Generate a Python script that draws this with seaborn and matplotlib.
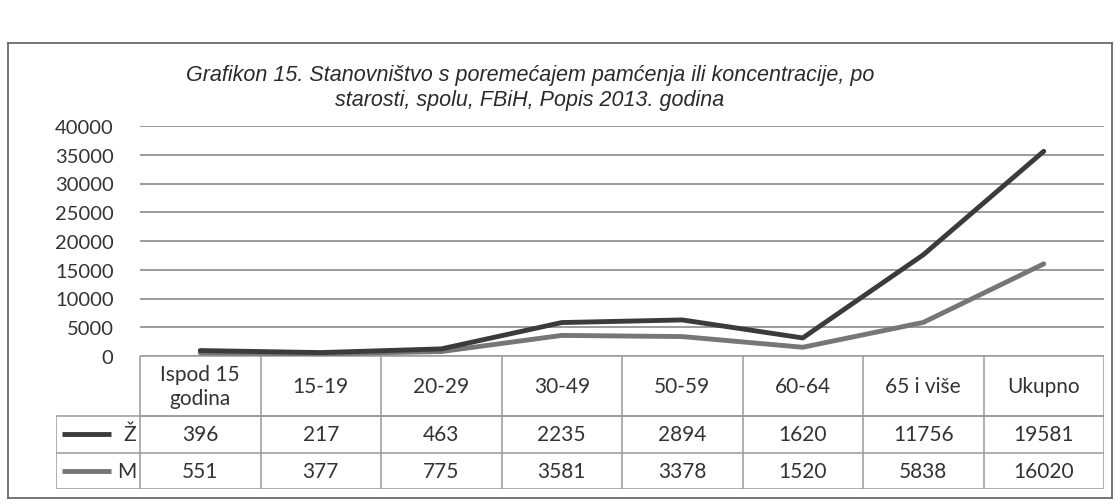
import numpy as np
import pandas as pd
import matplotlib
matplotlib.use("Agg")
import matplotlib.pyplot as plt
import seaborn as sns

categories = ["Ispod 15\ngodina", "15-19", "20-29", "30-49", "50-59", "60-64", "65 i više", "Ukupno"]
zene = [396, 217, 463, 2235, 2894, 1620, 11756, 19581]
muski = [551, 377, 775, 3581, 3378, 1520, 5838, 16020]
yticks = [0, 5000, 10000, 15000, 20000, 25000, 30000, 35000, 40000]

dark = "#3b3b3b"
light = "#767676"
grid_col = "#8a8a8a"
txt_col = "#333333"

sns.set_theme(style="white")
plt.rcParams['font.family'] = ['Lato', 'DejaVu Sans']

W, H = 1115, 502
fig = plt.figure(figsize=(W / 100, H / 100), dpi=100)
fig.patch.set_facecolor("white")

def px(x0, y0, x1, y1):
    # figure-pixel box -> axes rect
    return [x0 / W, 1 - y1 / H, (x1 - x0) / W, (y1 - y0) / H]

# outer frame
frame = fig.add_axes(px(8, 44, 1112, 499))
frame.set_xticks([])
frame.set_yticks([])
for s in frame.spines.values():
    s.set_color("#6a6a6a")
    s.set_linewidth(1.3)
frame.patch.set_alpha(0)

fig.text(530 / W, 1 - 88 / H,
         "Grafikon 15. Stanovništvo s poremećajem pamćenja ili koncentracije, po\nstarosti, spolu, FBiH, Popis 2013. godina",
         ha="center", va="center", fontsize=15.5, style="italic", color="#2a2a2a",
         family=["Liberation Sans", "DejaVu Sans"], linespacing=1.2)

# stacked line chart (Excel style): M at the bottom, Ž stacked on M
n = len(categories)
df = pd.DataFrame({
    "x": np.arange(n),
    "M": muski,
    "Ž": np.array(muski) + np.array(zene),
})

ax = fig.add_axes(px(140, 127, 1104, 357))
ax.set_xlim(-0.5, n - 0.5)
ax.set_ylim(0, 40000)
ax.set_yticks(yticks)
ax.yaxis.grid(True, color=grid_col, linewidth=1.2)
ax.set_axisbelow(True)
sns.lineplot(data=df, x="x", y="M", ax=ax, color=light, linewidth=3.5, legend=False)
sns.lineplot(data=df, x="x", y="Ž", ax=ax, color=dark, linewidth=3.5, legend=False)
ax.set_xticks([])
ax.set_xlabel("")
ax.set_ylabel("")
for s in ax.spines.values():
    s.set_visible(False)
ax.tick_params(axis="y", length=0, pad=19, labelsize=14.5, labelcolor=txt_col)
ax.patch.set_alpha(0)

# data table under the plot
lab_w = (140 - 56) / ((1104 - 140) / n)
tab = fig.add_axes(px(56, 357, 1104, 490))
tab.set_xlim(-0.5 - lab_w, n - 0.5)
tab.set_ylim(0, 1)
tab.axis("off")

h_head = (417 - 357) / (490 - 357)
h_row = (1 - h_head) / 2
y_head_bot = 1 - h_head
y_row1_bot = y_head_bot - h_row
edges = np.arange(n + 1) - 0.5
bcol = "#9a9a9a"
tab.hlines([1, y_head_bot], -0.5, n - 0.5, color=bcol, lw=1.1)
tab.hlines([y_head_bot, y_row1_bot, 0], -0.5 - lab_w, n - 0.5, color=bcol, lw=1.1)
tab.vlines(edges, 0, 1, color=bcol, lw=1.1)
tab.vlines(-0.5 - lab_w, 0, y_head_bot, color=bcol, lw=1.1)

fs = 15
for i, c in enumerate(categories):
    tab.text(i, 1 - h_head / 2, c, ha="center", va="center", fontsize=fs, color=txt_col, linespacing=1.2)
    tab.text(i, y_head_bot - h_row / 2, str(zene[i]), ha="center", va="center", fontsize=fs, color=txt_col)
    tab.text(i, h_row / 2, str(muski[i]), ha="center", va="center", fontsize=fs, color=txt_col)

# legend keys in the row label cells
for yc, lab, col in [(y_head_bot - h_row / 2, "Ž", dark), (h_row / 2, "M", light)]:
    tab.plot([-0.5 - lab_w + 0.05, -0.5 - 0.24], [yc, yc], color=col, lw=3.5, solid_capstyle="butt")
    tab.text(-0.53, yc, lab, ha="right", va="center", fontsize=fs, color=txt_col)

fig.savefig("out.png", dpi=100)
